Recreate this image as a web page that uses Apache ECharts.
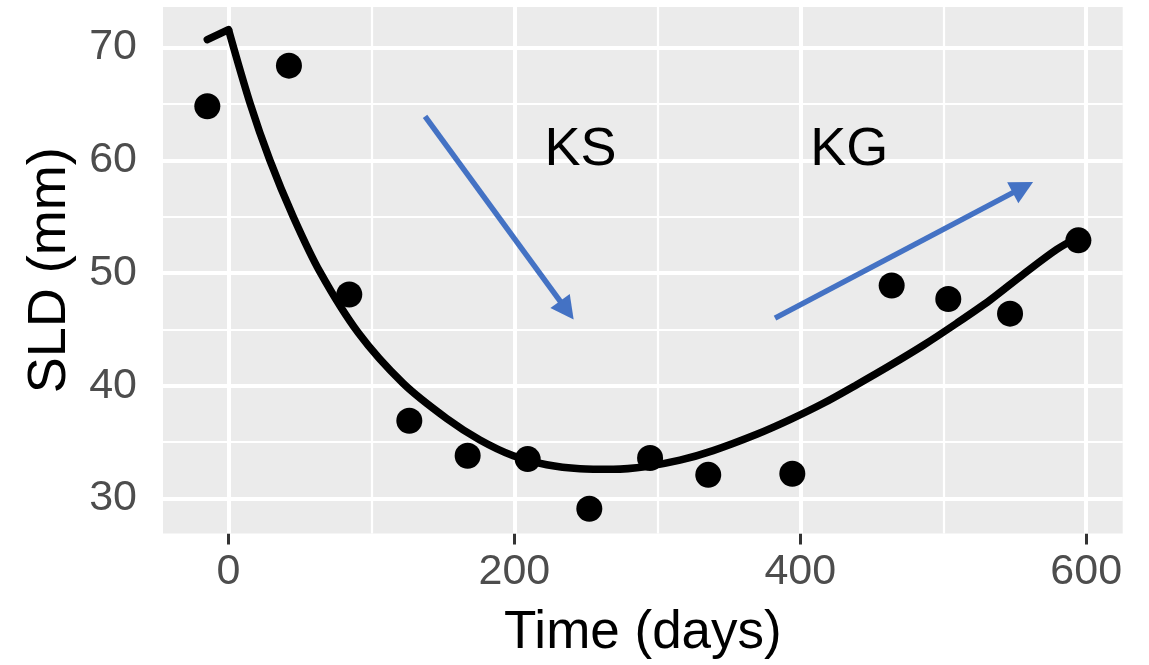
<!DOCTYPE html>
<html>
<head>
<meta charset="utf-8">
<script src="https://cdn.jsdelivr.net/npm/echarts@6/dist/echarts.min.js"></script>
<style>
html,body{margin:0;padding:0;background:#fff;}
#chart{width:1149px;height:665px;}
</style>
</head>
<body>
<div id="chart"></div>
<script>
// Observed tumour sizes
const obsTime = [-14.8, 42.3, 84.5, 126.5, 167.3, 209.3, 252.4, 294.9, 335.6, 394.4, 463.9, 503.5, 546.7, 594.5];
const obsSLD  = [64.8, 68.4, 48.1, 36.9, 33.8, 33.5, 29.1, 33.6, 32.1, 32.2, 48.9, 47.7, 46.4, 52.9];

// Fitted curve: before and after treatment start
const preTime = [-14.8, 0];
const preSLD  = [70.7, 71.6];
const fitTime = [0, 15, 29, 45.3, 64, 90.8, 122.3, 152.6, 175.9, 199.2, 222.6, 245.9, 269.2, 292.5, 315.8, 339, 369.5, 392.8, 416.1, 439.5, 462.7, 486.1, 509.4, 532.7, 556, 579.4, 594.5];
const fitSLD  = [71.6, 65.1, 60.0, 55.0, 50.1, 44.7, 40.2, 37.1, 35.2, 33.8, 33.0, 32.65, 32.6, 32.85, 33.4, 34.25, 35.7, 37.0, 38.45, 40.1, 41.8, 43.6, 45.55, 47.6, 49.9, 52.1, 53.2];

// Arrows (start -> head centre) and their labels
const arrowKS = [[137.5, 63.9], [236.7, 46.7]];
const arrowKG = [[382.3, 46.0], [555.7, 57.6]];
const textLabels = ['KS', 'KG'];
const textTime = [246.2, 434.2];
const textSLD  = [60.95, 60.95];

// Axes
const xTicks = [0, 200, 400, 600];
const xMinor = [100, 300, 500];
const yTicks = [30, 40, 50, 60, 70];
const yMinor = [35, 45, 55, 65];
const xRange = [-45.8, 625.5];
const yRange = [26.9, 73.6];

const FONT = 'Liberation Sans, Arial, Helvetica, sans-serif';
const zip = (a, b) => a.map((v, i) => [v, b[i]]);

const chart = echarts.init(document.getElementById('chart'), null, {renderer: 'canvas'});

const gridLines = [
  ...xMinor.map(v => ({xAxis: v, lineStyle: {width: 2.2}})),
  ...yMinor.map(v => ({yAxis: v, lineStyle: {width: 2.2}})),
  ...xTicks.map(v => ({xAxis: v, lineStyle: {width: 4}})),
  ...yTicks.map(v => ({yAxis: v, lineStyle: {width: 4}}))
];

const option = {
  animation: false,
  backgroundColor: '#ffffff',
  grid: {
    left: 163, right: 26.3, top: 7, bottom: 131.5,
    show: true, backgroundColor: '#EBEBEB', borderWidth: 0,
    containLabel: false, outerBoundsMode: 'none'
  },
  xAxis: {
    type: 'value', min: xRange[0], max: xRange[1],
    name: 'Time (days)', nameLocation: 'middle', nameGap: 73,
    nameTextStyle: {fontSize: 53, color: '#000', fontFamily: FONT},
    axisLine: {show: false},
    axisTick: {show: true, length: 11, customValues: xTicks, lineStyle: {color: '#333333', width: 3}},
    axisLabel: {customValues: xTicks, margin: 17, fontSize: 43, color: '#4D4D4D', fontFamily: FONT},
    splitLine: {show: false}
  },
  yAxis: {
    type: 'value', min: yRange[0], max: yRange[1],
    name: 'SLD (mm)', nameLocation: 'middle', nameGap: 86, nameRotate: 90,
    nameTextStyle: {fontSize: 54, color: '#000', fontFamily: FONT},
    axisLine: {show: false},
    axisTick: {show: true, length: 11, customValues: yTicks, lineStyle: {color: '#333333', width: 3}},
    axisLabel: {customValues: yTicks, margin: 26, fontSize: 43, color: '#4D4D4D', fontFamily: FONT},
    splitLine: {show: false}
  },
  series: [
    {
      name: 'grid', type: 'line', data: [], silent: true,
      markLine: {
        silent: true, z: 1, symbol: 'none', animation: false,
        label: {show: false},
        emphasis: {disabled: true},
        lineStyle: {color: '#ffffff', type: 'solid', width: 2},
        data: gridLines
      }
    },
    {
      name: 'fitPre', type: 'line', z: 3, data: zip(preTime, preSLD),
      showSymbol: false, silent: true,
      lineStyle: {color: '#000', width: 7.5, cap: 'round', join: 'round'}
    },
    {
      name: 'fit', type: 'line', z: 3, data: zip(fitTime, fitSLD),
      showSymbol: false, silent: true, smooth: 0.3,
      lineStyle: {color: '#000', width: 7.5, join: 'round'}
    },
    {
      name: 'obs', type: 'scatter', z: 4, data: zip(obsTime, obsSLD),
      symbol: 'circle', symbolSize: 26, silent: true,
      itemStyle: {color: '#000', opacity: 1}
    },
    {
      name: 'arrows', type: 'line', data: [], silent: true,
      markLine: {
        silent: true, z: 5, animation: false,
        symbol: ['none', 'triangle'], symbolSize: [24, 23],
        label: {show: false},
        emphasis: {disabled: true},
        lineStyle: {color: '#4472C4', type: 'solid', width: 5.5, opacity: 1},
        itemStyle: {color: '#4472C4'},
        data: [
          [{coord: arrowKS[0]}, {coord: arrowKS[1]}],
          [{coord: arrowKG[0]}, {coord: arrowKG[1]}]
        ]
      }
    },
    {
      name: 'labels', type: 'scatter', z: 6, silent: true,
      data: textTime.map((t, i) => [t, textSLD[i], textLabels[i]]),
      symbol: 'circle', symbolSize: 1,
      itemStyle: {color: '#000', opacity: 0},
      label: {
        show: true, position: 'inside', opacity: 1,
        formatter: p => p.value[2],
        fontSize: 54, color: '#000000', fontFamily: FONT,
        textBorderWidth: 0
      }
    }
  ]
};
chart.setOption(option);
</script>
</body>
</html>
